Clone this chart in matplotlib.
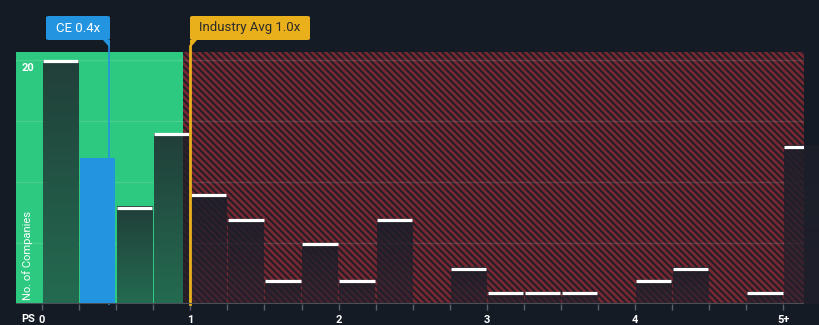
import matplotlib
matplotlib.use("Agg")
import matplotlib.pyplot as plt
import numpy as np
from matplotlib.patches import Rectangle, Polygon, FancyBboxPatch
from matplotlib.colors import LinearSegmentedColormap

plt.rcParams['font.family'] = ['Roboto', 'DejaVu Sans']
plt.rcParams['hatch.linewidth'] = 2.0

# ---- data ----
bin_lefts = [0.0, 0.25, 0.5, 0.75, 1.0, 1.25, 1.5, 1.75, 2.0, 2.25, 2.5, 2.75,
             3.0, 3.25, 3.5, 3.75, 4.0, 4.25, 4.5, 4.75, 5.0]
counts = [20, 12, 8, 14, 9, 7, 2, 5, 2, 7, 0, 3, 1, 1, 1, 0, 2, 3, 0, 1, 13]
bin_width = 0.25
company_value = 0.45
company_label = "CE 0.4x"
industry_value = 1.0
industry_label = "Industry Avg 1.0x"
fair_limit = 0.95
tick_values = [0, 1, 2, 3, 4, 5]
tick_labels = ["0", "1", "2", "3", "4", "5+"]
grid_values = [5, 10, 15, 20]

BG = "#151b25"
GREEN = "#2ec981"
BLUE = "#2394e0"
ORANGE = "#e9b01c"
HATCH_BG = "#1f1d27"
HATCH_COL = "#762831"
HATCH = '\\\\\\\\\\'

W, H = 820, 325
fig = plt.figure(figsize=(W / 100, H / 100), dpi=100, facecolor=BG)
L, R, T, B = 16, 804, 52, 304
ax = fig.add_axes([L / W, (H - B) / H, (R - L) / W, (B - T) / H])
ax.set_facecolor(BG)

x0 = -26 / 148.3
x1 = (804 - 42) / 148.3
ymax = (304 - 52) / 12.2
ax.set_xlim(x0, x1)
ax.set_ylim(0, ymax)

# background zones
ax.add_patch(Rectangle((x0, 0), fair_limit - x0, ymax, facecolor=GREEN, edgecolor='none', zorder=0))
ax.add_patch(Rectangle((fair_limit, 0), x1 - fair_limit, ymax, facecolor=HATCH_BG,
                       edgecolor=HATCH_COL, hatch=HATCH, linewidth=0, zorder=0))

# grid
for g in grid_values:
    ax.axhline(g, color='white', alpha=0.12, linewidth=1, zorder=1)

green_cmap = LinearSegmentedColormap.from_list('g', ['#246b51', '#213f39'])
dark_cmap = LinearSegmentedColormap.from_list('d', [(0.14, 0.13, 0.18, 0.62), (0.11, 0.12, 0.16, 0.9)])
grad = np.linspace(0, 1, 100).reshape(-1, 1)

gap = 0.006
for left, c in zip(bin_lefts, counts):
    if c == 0:
        continue
    bl = left + gap
    bw = bin_width - 2 * gap
    if left <= company_value < left + bin_width:
        ax.add_patch(Rectangle((bl, 0), bw, c, facecolor=BLUE, edgecolor='none', zorder=2))
        continue
    cm = green_cmap if left < fair_limit else dark_cmap
    rect = Rectangle((bl, 0), bw, c, facecolor='none', edgecolor='none', zorder=2)
    ax.add_patch(rect)
    im = ax.imshow(grad, extent=(bl, bl + bw, 0, c), origin='lower', aspect='auto',
                   cmap=cm, zorder=2, interpolation='bilinear')
    im.set_clip_path(rect)
    ax.plot([bl, bl + bw], [c - 0.1, c - 0.1], color='white', linewidth=2.3,
            solid_capstyle='butt', zorder=4)

ax.set_xlim(x0, x1)
ax.set_ylim(0, ymax)

# hatched overlay on part of a bar beyond the fair limit
for left, c in zip(bin_lefts, counts):
    if left < fair_limit < left + bin_width and c > 0:
        wpart = left + bin_width - fair_limit - gap
        ax.add_patch(Rectangle((fair_limit, 0), wpart, c, facecolor=HATCH_BG,
                               edgecolor=HATCH_COL, hatch=HATCH, linewidth=0, zorder=2.5))
        ax.add_patch(Rectangle((fair_limit, 0), wpart, c,
                               facecolor=(0.11, 0.12, 0.16, 0.8), edgecolor='none', zorder=2.6))

# vertical lines
ax.plot([company_value, company_value], [0, ymax + 0.5], color=BLUE, linewidth=1.2,
        zorder=5, clip_on=False)
ax.plot([industry_value, industry_value], [0, ymax + 0.5], color=ORANGE, linewidth=2,
        zorder=5, clip_on=False)

# axis styling
for s in ax.spines.values():
    s.set_visible(False)
ax.axhline(0, color='#4a4f58', linewidth=1.5, zorder=6)
ax.set_yticks([])
edges = list(bin_lefts) + [5.25]
ax.set_xticks([e for e in edges if e <= x1], minor=True)
ax.tick_params(axis='x', which='minor', length=4, color='#5a5f68', width=1)
ax.set_xticks(tick_values)
ax.set_xticklabels(tick_labels)
ax.tick_params(axis='x', which='major', length=4, color='#5a5f68', width=1,
               labelcolor='white', labelsize=8, pad=4)
for lab in ax.get_xticklabels():
    lab.set_fontweight('bold')

fig.text(28 / W, 1 - 319 / H, "PS", color='white', fontsize=8, fontweight='bold',
         ha='center', va='center')
fig.text(28 / W, 1 - 68 / H, "20", color='white', fontsize=8, fontweight='bold',
         ha='center', va='center')
fig.text(28 / W, 1 - 256 / H, "No. of Companies", color='white', fontsize=8,
         rotation=90, ha='center', va='center')

def box(xl, xr, yt, yb, color, text, tcolor, ptr_x, ptr_side):
    fx = lambda x: x / W
    fy = lambda y: 1 - y / H
    fig.patches.append(FancyBboxPatch((fx(xl), fy(yb)), fx(xr - xl), (yb - yt) / H,
                                      boxstyle="round,pad=0,rounding_size=0.004",
                                      facecolor=color, edgecolor='none',
                                      transform=fig.transFigure, zorder=10))
    if ptr_side == 'right':
        pts = [(fx(ptr_x - 7), fy(yb)), (fx(ptr_x), fy(yb)), (fx(ptr_x), fy(yb + 8))]
    else:
        pts = [(fx(ptr_x), fy(yb)), (fx(ptr_x + 7), fy(yb)), (fx(ptr_x), fy(yb + 8))]
    fig.patches.append(Polygon(pts, closed=True, facecolor=color, edgecolor='none',
                               transform=fig.transFigure, zorder=10))
    fig.text(fx((xl + xr) / 2), fy((yt + yb) / 2), text, color=tcolor, fontsize=9.5,
             ha='center', va='center', zorder=11)

box(46, 110, 16, 40, BLUE, company_label, 'white', 110, 'right')
box(190, 310, 16, 40, ORANGE, industry_label, '#2a2a2a', 190, 'left')

fig.savefig("out.png", dpi=100, facecolor=BG)
